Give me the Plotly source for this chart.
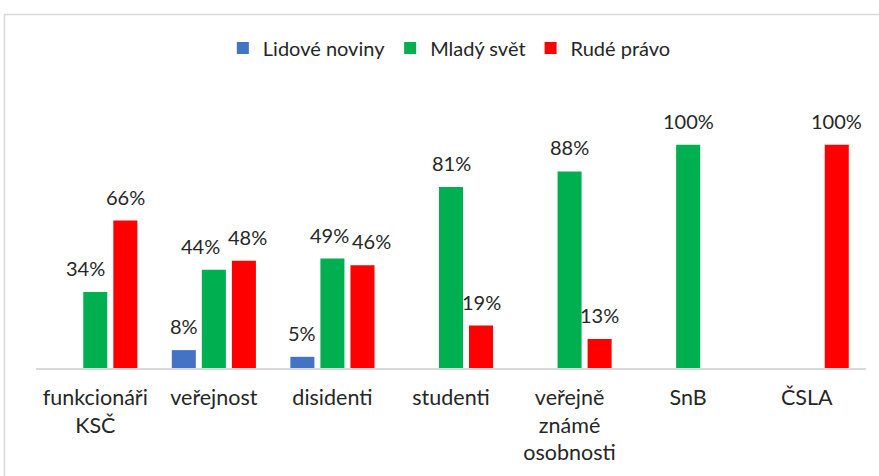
import plotly.graph_objects as go

categories = ["funkcionáři<br>KSČ", "veřejnost", "disidenti", "studenti",
              "veřejně<br>známé<br>osobnosti", "SnB", "ČSLA"]
lidove_noviny = [None, 8, 5, None, None, None, None]
mlady_svet = [34, 44, 49, 81, 88, 100, None]
rude_pravo = [66, 48, 46, 19, 13, None, 100]

series = [("Lidové noviny", lidove_noviny, "#4472C4"),
          ("Mladý svět", mlady_svet, "#00B050"),
          ("Rudé právo", rude_pravo, "#FF0000")]

# manual horizontal nudges of data labels (series index, category index) -> px
label_nudge = {(1, 0): -10, (1, 1): -13, (2, 1): 4, (1, 2): -3, (2, 2): 9}

FONT = "Lato"
W, H = 879, 476
ML, MR, MT, MB = 36, 13, 100, 108
BARGAP = 0.24
plot_w = W - ML - MR
slot = plot_w / len(categories) * (1 - BARGAP) / len(series)

fig = go.Figure()
annotations = []
for i, (name, vals, color) in enumerate(series):
    fig.add_trace(go.Bar(name=name, x=categories, y=vals, marker_color=color,
                         marker_line_width=0, hoverinfo="skip"))
    for j, v in enumerate(vals):
        if v is None:
            continue
        annotations.append(dict(
            x=categories[j], y=v, xref="x", yref="y", text=f"{v}%",
            showarrow=False, yanchor="bottom", xanchor="center",
            xshift=(i - 1) * slot + label_nudge.get((i, j), 0), yshift=10,
            font=dict(family=FONT, size=20, color="#262626")))

fig.update_layout(
    width=W, height=H,
    margin=dict(l=ML, r=MR, t=MT, b=MB, autoexpand=False),
    barmode="group", bargap=BARGAP, bargroupgap=0.2,
    plot_bgcolor="white", paper_bgcolor="white",
    font=dict(family=FONT, size=21, color="#262626"),
    legend=dict(orientation="h", x=0.498, xanchor="center", y=1.194, yanchor="middle",
                font=dict(family=FONT, size=20, color="#262626"),
                itemwidth=30, traceorder="normal"),
    xaxis=dict(showline=True, linecolor="#d9d9d9", linewidth=1.5, ticks="",
               ticklabelstandoff=9, automargin=False,
               tickfont=dict(family=FONT, size=21.5, color="#262626"), fixedrange=True),
    yaxis=dict(range=[0, 120], visible=False, showgrid=False, zeroline=False,
               automargin=False),
    showlegend=True,
    annotations=annotations,
)
fig.add_shape(type="rect", xref="paper", yref="paper",
              x0=(4.5 - ML) / plot_w, x1=(885 - ML) / plot_w,
              y0=(368 - 490) / (H - MT - MB), y1=(368 - 14.5) / (H - MT - MB),
              line=dict(color="#d9d9d9", width=1.5), layer="below")

fig.write_html("out.html", config={"displayModeBar": False},
               post_script="document.body.style.margin='0';document.body.style.overflow='hidden';")
